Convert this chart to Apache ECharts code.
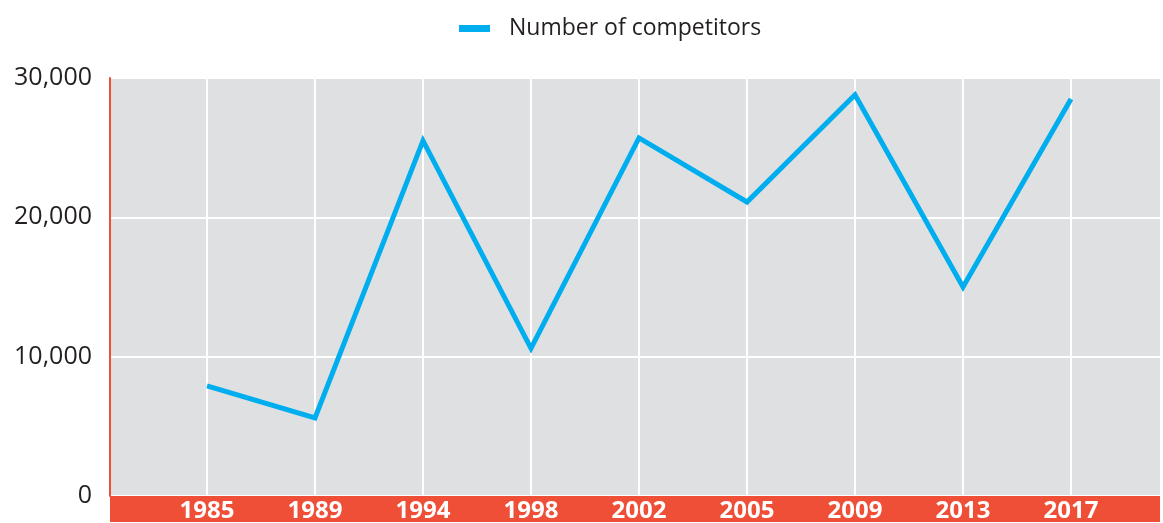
<!DOCTYPE html>
<html>
<head>
<meta charset="utf-8">
<title>Number of competitors</title>
<script src="https://cdn.jsdelivr.net/npm/echarts@6/dist/echarts.min.js"></script>
<style>
  html, body { margin: 0; padding: 0; background: #ffffff; }
  #chart { width: 1163px; height: 523px; }
</style>
</head>
<body>
<div id="chart"></div>
<script>
// Competition years and number of competitors in each edition
const years = ['1985', '1989', '1994', '1998', '2002', '2005', '2009', '2013', '2017'];
const competitors = [7900, 5600, 25500, 10600, 25700, 21100, 28800, 15000, 28500];
const seriesName = 'Number of competitors';
const yTicks = { min: 0, max: 30000, interval: 10000 };

const RED = '#ef4e37';
const BLUE = '#00aeef';
const GREY = '#dfe0e2';
const INK = '#231f20';
const FONT = '"Open Sans", "Noto Sans", sans-serif';

const chart = echarts.init(document.getElementById('chart'), null, { renderer: 'canvas' });

chart.setOption({
  animation: false,
  backgroundColor: '#ffffff',
  textStyle: { fontFamily: FONT },
  legend: {
    data: [{ name: seriesName, icon: 'rect' }],
    left: 454,
    top: 12,
    itemWidth: 31,
    itemHeight: 7,
    textStyle: { fontSize: 23, color: INK, fontFamily: FONT, padding: [0, 0, 0, 14] }
  },
  grid: [
    // full panel: grey background, horizontal grid, red frame pieces
    { left: 110, right: 3, top: 78, bottom: 27, show: true, backgroundColor: GREY, borderWidth: 0 },
    // inner band holding the year categories and the line
    { left: 207, right: 92, top: 78, bottom: 27 }
  ],
  xAxis: [
    {
      // red strip under the panel
      gridIndex: 0,
      type: 'category',
      data: [''],
      offset: 13,
      z: 1,
      axisLine: { show: true, onZero: false, lineStyle: { color: RED, width: 26, cap: 'butt' } },
      axisTick: { show: false },
      axisLabel: { show: false },
      splitLine: { show: false }
    },
    {
      gridIndex: 1,
      type: 'category',
      boundaryGap: false,
      data: years,
      z: 4,
      axisLine: { show: false, onZero: false },
      axisTick: { show: false },
      axisLabel: {
        color: '#ffffff',
        fontWeight: 'bold',
        fontSize: 24,
        fontFamily: FONT,
        margin: 3
      },
      splitLine: { show: true, lineStyle: { color: '#ffffff', width: 2 } }
    }
  ],
  yAxis: [
    {
      gridIndex: 0,
      type: 'value',
      min: yTicks.min,
      max: yTicks.max,
      interval: yTicks.interval,
      axisLine: { show: true, lineStyle: { color: RED, width: 2 } },
      axisTick: { show: false },
      axisLabel: {
        color: INK,
        fontSize: 25,
        fontFamily: FONT,
        margin: 18,
        formatter: v => v.toLocaleString('en-US')
      },
      splitLine: { show: true, lineStyle: { color: '#ffffff', width: 2 } }
    },
    {
      gridIndex: 1,
      type: 'value',
      min: yTicks.min,
      max: yTicks.max,
      interval: yTicks.interval,
      show: false,
      splitLine: { show: false }
    }
  ],
  series: [
    {
      name: seriesName,
      type: 'line',
      xAxisIndex: 1,
      yAxisIndex: 1,
      data: competitors,
      symbol: 'none',
      color: BLUE,
      lineStyle: { color: BLUE, width: 5, join: 'miter', cap: 'butt' },
      z: 5
    }
  ]
});
</script>
</body>
</html>
